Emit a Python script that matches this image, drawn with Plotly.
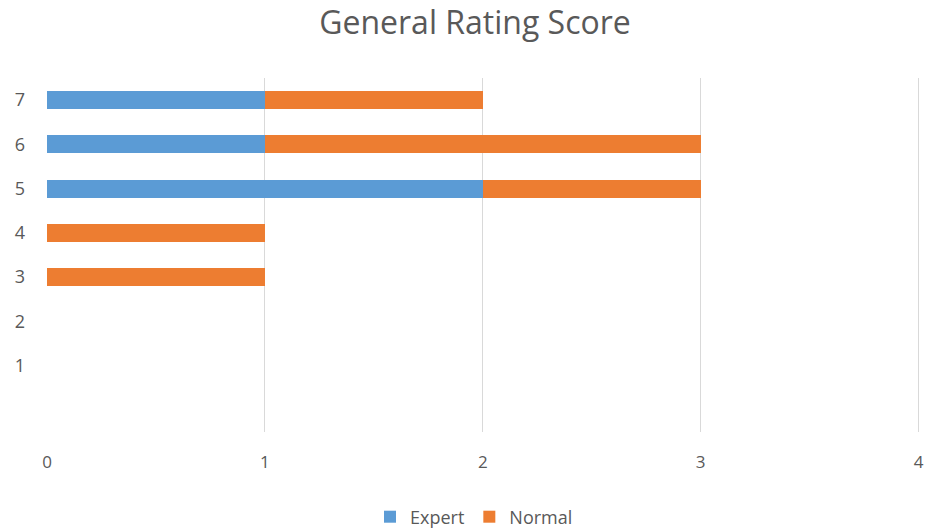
import plotly.graph_objects as go

ratings = [1, 2, 3, 4, 5, 6, 7]
expert = [0, 0, 0, 0, 2, 1, 1]
normal = [0, 0, 1, 1, 1, 2, 1]
x_ticks = [0, 1, 2, 3, 4]

font_family = "Open Sans"
text_color = "#595959"

W, H = 928, 531
L, R, T, B = 47, 5, 78, 99
plot_h = H - T - B

fig = go.Figure()
fig.add_trace(go.Bar(y=ratings, x=expert, name="Expert", orientation="h",
                     marker=dict(color="#5B9BD5", line=dict(width=0)), width=0.41))
fig.add_trace(go.Bar(y=ratings, x=normal, name="Normal", orientation="h",
                     marker=dict(color="#ED7D31", line=dict(width=0)), width=0.41))

fig.update_layout(
    template="none",
    barmode="stack",
    width=W, height=H,
    margin=dict(l=L, r=R, t=T, b=B, autoexpand=False),
    paper_bgcolor="white", plot_bgcolor="white",
    font=dict(family=font_family, color=text_color, size=17),
    title=dict(text="General Rating Score", x=475/W, xanchor="center",
               y=1 - 23/H, yanchor="middle", xref="container", yref="container",
               font=dict(size=32, color=text_color, family=font_family)),
    xaxis=dict(range=[0, 4.02], tickvals=x_ticks, showgrid=True, gridcolor="#D9D9D9",
               gridwidth=1, zeroline=False, showline=False, ticks="",
               ticklabelstandoff=18, automargin=False, ticklabeloverflow="allow",
               tickfont=dict(size=17, color=text_color, family=font_family)),
    yaxis=dict(range=[-0.5, 7.5], tickvals=ratings, showgrid=False, zeroline=False,
               showline=False, ticks="", ticklabelstandoff=21, automargin=False,
               tickfont=dict(size=18, color=text_color, family=font_family)),
    legend=dict(orientation="h", x=(474 - L) / (W - L - R), xanchor="center",
                y=-85 / plot_h, yanchor="middle",
                font=dict(size=18, color=text_color, family=font_family),
                traceorder="normal", itemwidth=30),
    bargap=0.59,
)

fig.write_html("out.html", config={"displayModeBar": False},
               post_script="document.body.style.margin='0';document.body.style.overflow='hidden';")
